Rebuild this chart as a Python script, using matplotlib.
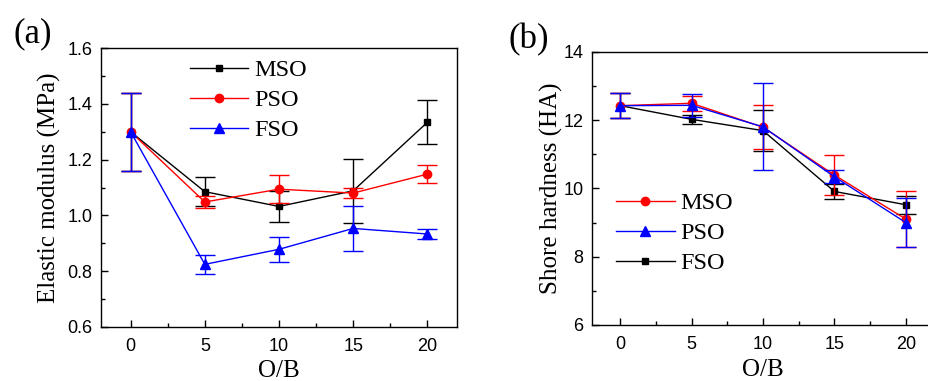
import matplotlib
matplotlib.use("Agg")
import matplotlib.pyplot as plt
from matplotlib.ticker import MultipleLocator

# O/B ratio
ob = [0, 5, 10, 15, 20]

# (a) elastic modulus, MPa
mod_mso = [1.30, 1.085, 1.032, 1.088, 1.334]
mod_mso_err = [0.14, 0.052, 0.056, 0.114, 0.079]
mod_pso = [1.30, 1.048, 1.094, 1.080, 1.148]
mod_pso_err = [0.14, 0.021, 0.051, 0.018, 0.033]
mod_fso = [1.30, 0.824, 0.878, 0.953, 0.933]
mod_fso_err = [0.14, 0.033, 0.045, 0.082, 0.017]

# (b) shore hardness, HA
hard_mso = [12.42, 12.49, 11.79, 10.39, 9.10]
hard_mso_err = [0.36, 0.22, 0.65, 0.58, 0.82]
hard_pso = [12.42, 12.43, 11.80, 10.34, 9.00]
hard_pso_err = [0.36, 0.33, 1.27, 0.19, 0.72]
hard_fso = [12.42, 12.02, 11.69, 9.91, 9.52]
hard_fso_err = [0.36, 0.13, 0.60, 0.22, 0.27]

serif = "Liberation Serif"
sans = "Liberation Sans"

fig = plt.figure(figsize=(9.29, 3.81), dpi=100)
ax1 = fig.add_axes([0.1087, 0.1425, 0.3832, 0.7307])
ax2 = fig.add_axes([0.6369, 0.147, 0.3688, 0.7173])


def draw(ax, y, err, color, marker, ms, label, z):
    ax.errorbar(ob, y, yerr=err, fmt="none", ecolor=color, elinewidth=1.0,
                capsize=7.5, capthick=1.0, zorder=z)
    ax.plot(ob, y, color=color, marker=marker, ms=ms, lw=1.0,
            label=label, zorder=z + 0.5)


draw(ax1, mod_mso, mod_mso_err, "black", "s", 5, "MSO", 2)
draw(ax1, mod_pso, mod_pso_err, "red", "o", 6, "PSO", 3)
draw(ax1, mod_fso, mod_fso_err, "blue", "^", 6.5, "FSO", 4)

draw(ax2, hard_mso, hard_mso_err, "red", "o", 6, "MSO", 3)
draw(ax2, hard_pso, hard_pso_err, "blue", "^", 6.5, "PSO", 4)
draw(ax2, hard_fso, hard_fso_err, "black", "s", 5, "FSO", 2)

ax1.set_ylim(0.6, 1.6)
ax1.yaxis.set_major_locator(MultipleLocator(0.2))
ax1.yaxis.set_minor_locator(MultipleLocator(0.1))
ax1.yaxis.set_major_formatter(plt.FuncFormatter(lambda v, p: f"{v:.1f}"))
ax1.set_ylabel("Elastic modulus (MPa)", fontfamily=serif, fontsize=18, labelpad=5)

ax2.set_ylim(6, 14)
ax2.yaxis.set_major_locator(MultipleLocator(2))
ax2.yaxis.set_minor_locator(MultipleLocator(1))
ax2.yaxis.set_major_formatter(plt.FuncFormatter(lambda v, p: f"{v:.0f}"))
ax2.set_ylabel("Shore hardness (HA)", fontfamily=serif, fontsize=18, labelpad=0)

for ax in (ax1, ax2):
    ax.set_xlim(-2, 22)
    ax.xaxis.set_major_locator(MultipleLocator(5))
    ax.xaxis.set_minor_locator(MultipleLocator(2.5))
    ax.set_xlabel("O/B", fontfamily=serif, fontsize=18, labelpad=4)
    ax.tick_params(which="both", direction="in", top=False, right=False,
                   labelsize=13, width=1.0)
    ax.tick_params(which="major", length=5)
    ax.tick_params(which="minor", length=3)
    ax.tick_params(axis="x", pad=8)
    ax.tick_params(axis="y", pad=6)
    for lab in ax.get_xticklabels() + ax.get_yticklabels():
        lab.set_fontfamily(sans)
    for s in ax.spines.values():
        s.set_linewidth(1.0)

leg_kw = dict(frameon=False, numpoints=1, borderpad=0, handletextpad=0.25,
              labelspacing=0.33, handlelength=2.4,
              prop={"family": serif, "size": 17.5})
ax1.legend(loc="upper left", bbox_to_anchor=(0.216, 1.005), **leg_kw)
ax2.legend(loc="upper left", bbox_to_anchor=(0.036, 0.53), **leg_kw)

fig.text(0.014, 0.91, "(a)", fontfamily=serif, fontsize=25, va="center")
fig.text(0.547, 0.896, "(b)", fontfamily=serif, fontsize=25, va="center")

fig.savefig("out.png", dpi=100)
